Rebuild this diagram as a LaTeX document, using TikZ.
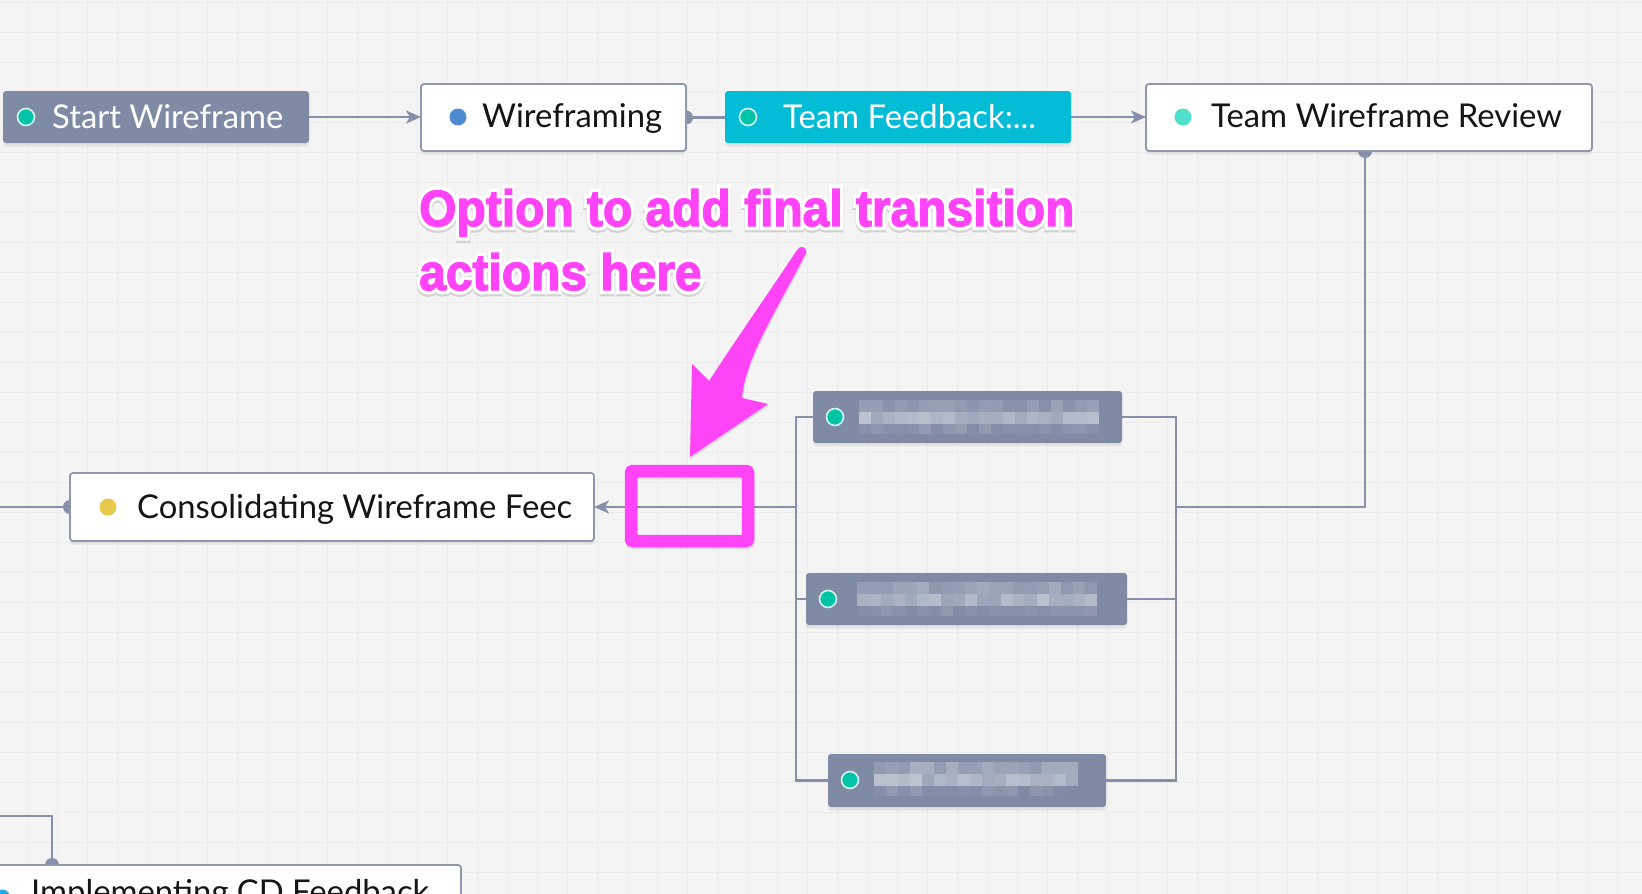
\documentclass[tikz,border=0pt]{standalone}
\usepackage{fontspec}
\setmainfont{Lato}
\newfontfamily\annfont{Liberation Sans Bold}[FakeBold=2.5]
\newfontfamily\annhalo{Liberation Sans Bold}[FakeBold=16]
\newfontfamily\annshadow{Liberation Sans Bold}[FakeBold=17]
\usetikzlibrary{arrows.meta,shadows,calc}
\pgfdeclarelayer{back}\pgfdeclarelayer{conns}\pgfdeclarelayer{front}
\pgfsetlayers{back,conns,main,front}
\definecolor{bgc}{HTML}{F4F4F4}
\definecolor{gridc}{HTML}{ECECEC}
\definecolor{slate}{HTML}{7F8AA5}
\definecolor{connc}{HTML}{8690AA}
\definecolor{wborder}{HTML}{8E97AE}
\definecolor{tealbox}{HTML}{05BCD7}
\definecolor{dotteal}{HTML}{00C4A8}
\definecolor{dotring}{HTML}{D6F2EE}
\definecolor{dotblue}{HTML}{4F8BD0}
\definecolor{dotturq}{HTML}{4EE0C9}
\definecolor{dotyellow}{HTML}{E6C84A}
\definecolor{dotcyan}{HTML}{22A8DE}
\definecolor{mag}{HTML}{FF44F7}
\definecolor{haloshadow}{HTML}{D2D2D2}
\definecolor{ink}{HTML}{151515}
\newcommand\halo[1]{%
  \rlap{\raisebox{-2pt}{\annshadow\color{haloshadow}#1}}%
  \rlap{\annhalo\color{white}#1}%
  {\annfont\color{mag}#1}}
\newcommand\blurbar[6]{% x0 y0 ncols rowbase-top rowbase-mid rowbase-bottom
  \foreach \i in {0,...,#3}{%
    \pgfmathsetmacro\oa{#4+0.18*rnd}\pgfmathsetmacro\ob{#5+0.25*rnd}\pgfmathsetmacro\oc{#6+0.15*rnd}%
    \fill[white,opacity=\oa] ({#1+\i*12},{#2}) rectangle ++(12,12);
    \fill[white,opacity=\ob] ({#1+\i*12},{#2+12}) rectangle ++(12,12);
    \fill[white,opacity=\oc] ({#1+\i*12},{#2+24}) rectangle ++(12,10);
  }}
\begin{document}
\begin{tikzpicture}[x=1pt,y=-1pt,
  box/.style={rectangle, rounded corners=3pt, anchor=north west, inner sep=0pt, outer sep=0pt},
  shad/.style={drop shadow={opacity=0.13,shadow xshift=0pt,shadow yshift=-3.5pt}},
  gbox/.style={box, fill=slate, shad},
  wbox/.style={box, fill=white, draw=wborder, line width=1.8pt, shad},
  tbox/.style={box, fill=tealbox, shad},
  dotn/.style={circle, minimum size=17pt, inner sep=0pt},
  ringdot/.style={dotn, fill=dotteal, draw=dotring, line width=1.6pt},
  wtext/.style={anchor=base west, inner sep=0pt, text=white, font=\fontsize{32.8}{38}\selectfont},
  btext/.style={anchor=base west, inner sep=0pt, text=ink, font=\fontsize{32.8}{38}\selectfont},
  conn/.style={draw=connc, line width=2.3pt},
  tip/.style={-{Stealth[length=15pt,width=13pt,inset=4pt]}},
  knob/.style={circle, fill=connc, minimum size=14pt, inner sep=0pt},
  ann/.style={anchor=base west, inner sep=0pt, font=\fontsize{51}{58}\selectfont}
]
\useasboundingbox (0,0) rectangle (1642,894);
\clip (0,0) rectangle (1642,894);
\begin{pgfonlayer}{back}
  \fill[bgc] (0,0) rectangle (1642,894);
  \foreach \gx in {27,57,...,1642} \draw[gridc, line width=1pt] (\gx,0) -- (\gx,894);
  \foreach \gy in {2,32,...,894} \draw[gridc, line width=1pt] (0,\gy) -- (1642,\gy);
\end{pgfonlayer}

% top row
\node[gbox, minimum width=306pt, minimum height=52pt] (start) at (3,91) {};
\node[ringdot] (startdot) at (26,117) {};
\node[wtext] (starttxt) at (52,128) {Start Wireframe};

\node[wbox, minimum width=265pt, minimum height=67pt] (wf) at (421,84) {};
\node[dotn, fill=dotblue] (wfdot) at (458,117) {};
\node[btext] (wftxt) at (482,127) {Wireframing};

\node[tbox, minimum width=346pt, minimum height=52pt] (tf) at (725,91) {};
\node[ringdot] (tfdot) at (748,117) {};
\node[wtext] (tftxt) at (783,128) {Team Feedback:...};

\node[wbox, minimum width=446pt, minimum height=67pt] (twr) at (1146,84) {};
\node[dotn, fill=dotturq] (twrdot) at (1183,117) {};
\node[btext] (twrtxt) at (1211,127) {Team Wireframe Review};

% consolidating
\node[wbox, minimum width=524pt, minimum height=68pt] (cons) at (70,473) {};
\node[dotn, fill=dotyellow] (consdot) at (108,507) {};
\node[btext] (constxt) at (137,518) {Consolidating Wireframe Feec};

% branch nodes
\node[gbox, minimum width=309pt, minimum height=52pt] (b1) at (813,391) {};
\node[ringdot] (b1dot) at (835,417) {};
\node[gbox, minimum width=321pt, minimum height=52pt] (b2) at (806,573) {};
\node[ringdot] (b2dot) at (828,599) {};
\node[gbox, minimum width=278pt, minimum height=53pt] (b3) at (828,754) {};
\node[ringdot] (b3dot) at (850,780) {};
\pgfmathsetseed{11}
\blurbar{859}{400}{19}{0.05}{0.25}{0.02}
\blurbar{857}{582}{19}{0.12}{0.22}{0.0}
\blurbar{874}{762}{16}{0.15}{0.25}{0.0}

% bottom node
\node[wbox, minimum width=481pt, minimum height=80pt] (impl) at (-20,865) {};
\node[dotn, fill=dotcyan] (impldot) at (2,898) {};
\node[btext] (impltxt) at (31,903) {Implementing CD Feedback};

% connectors
\coordinate (j) at (1365,507);
\coordinate (rb) at (1176,507);
\coordinate (lb) at (796,507);
\coordinate (lin) at (0,507);
\coordinate (bin) at (0,816);
\coordinate (c52) at (52,816);
\begin{pgfonlayer}{conns}
  \draw[conn, tip] (start.east) -- (start.east -| wf.west);
  \draw[conn] (wf.east) -- (wf.east -| tf.west);
  \node[knob] (k1) at (wf.east) {};
  \draw[conn, tip] (tf.east) -- (tf.east -| twr.west);
  \draw[conn] (twr.south -| j) -- (j) -- (rb);
  \node[knob] (k2) at (twr.south -| j) {};
  \draw[conn] (b1.east) -- (b1.east -| rb) -- (b3.east -| rb) -- (b3.east);
  \draw[conn] (b2.east) -- (b2.east -| rb);
  \draw[conn] (b1.west) -- (b1.west -| lb) -- (b3.west -| lb) -- (b3.west);
  \draw[conn] (b2.west) -- (b2.west -| lb);
  \draw[conn, tip] (lb) -- (cons.east);
  \draw[conn] (lin) -- (cons.west);
  \node[knob] (k3) at (cons.west) {};
  \draw[conn] (bin) -- (c52) -- (c52 |- impl.north);
  \node[knob] (k4) at (c52 |- impl.north) {};
\end{pgfonlayer}

% annotation
\begin{pgfonlayer}{front}
  \draw[black, opacity=0.10, line width=12.5pt, rounded corners=2pt] (632,473) rectangle (749,543);
  \draw[mag, line width=12.5pt, rounded corners=2pt] (631,471) rectangle (748,541);
  \fill[black, opacity=0.10] (691,459) -- (693,366) -- (710,383) .. controls (740,337) and (775,287) .. (798,252) .. controls (801,247) and (808,248) .. (807,255) .. controls (778,312) and (746,360) .. (743,400) -- (769,406) -- cycle;
  \fill[mag] (690,457) -- (692,364) -- (709,381) .. controls (739,335) and (774,285) .. (797,250) .. controls (800,245) and (807,246) .. (806,253) .. controls (777,310) and (745,358) .. (742,398) -- (768,404) -- cycle;
  \node[ann] (ann1) at (419,226) {\scalebox{0.94}[1]{\halo{Option to add final transition}}};
  \node[ann] (ann2) at (419,290) {\scalebox{0.94}[1]{\halo{actions here}}};
\end{pgfonlayer}
\end{tikzpicture}
\end{document}
